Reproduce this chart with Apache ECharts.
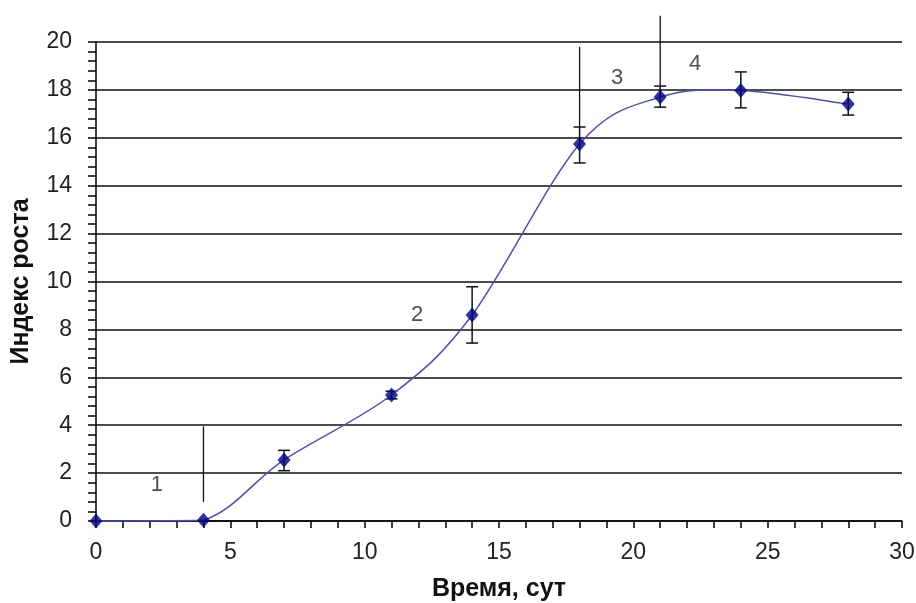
<!DOCTYPE html>
<html>
<head>
<meta charset="utf-8">
<script src="https://cdn.jsdelivr.net/npm/echarts@6/dist/echarts.min.js"></script>
<style>html,body{margin:0;padding:0;background:#fff;}#c{width:916px;height:603px;}</style>
</head>
<body>
<div id="c"></div>
<script>
// Data
const days = [0, 4, 7, 11, 14, 18, 21, 24, 28];
const growth = [0, 0.03, 2.55, 5.26, 8.6, 15.74, 17.7, 17.97, 17.41];
const errLow = [null, null, 2.1, 5.1, 7.43, 14.95, 17.28, 17.25, 16.95];
const errHigh = [null, null, 2.95, 5.42, 9.78, 16.45, 18.16, 18.75, 17.9];
const stageLineX = [4, 18, 21];
const stageLineFrom = [0.8, 16.45, 18.16];
const stageLineTo = [3.95, 19.8, 21.1];
const stageNames = ['1', '2', '3', '4'];
const stageNameX = [2.27, 11.95, 19.4, 22.3];
const stageNameY = [1.5, 8.6, 18.5, 19.1];
const xTitle = 'Время, сут';
const yTitle = 'Индекс роста';

const FONT = '"Liberation Sans", Arial, sans-serif';

const lineData = days.map((d, i) => [d, growth[i]]);
const segData = days.slice(0, -1).map((d, i) => [d, growth[i], days[i + 1], growth[i + 1]]);
const errData = [];
days.forEach((d, i) => { if (errLow[i] != null) errData.push([d, errLow[i], errHigh[i]]); });
const vData = stageLineX.map((x, i) => [x, stageLineFrom[i], stageLineTo[i]]);
const labelData = stageNames.map((n, i) => ({ name: n, value: [stageNameX[i], stageNameY[i]] }));

const chart = echarts.init(document.getElementById('c'));
chart.setOption({
  animation: false,
  backgroundColor: '#fff',
  grid: { left: 96, right: 14, top: 42, bottom: 82, outerBoundsMode: 'none', containLabel: false },
  xAxis: {
    type: 'value', min: 0, max: 30, interval: 5,
    name: xTitle, nameLocation: 'middle', nameGap: 56,
    nameTextStyle: { fontFamily: FONT, fontSize: 25, fontWeight: 'bold', color: '#111' },
    axisLine: { show: true, onZero: false, lineStyle: { color: '#000', width: 1.5 } },
    axisTick: { show: true, length: 7, lineStyle: { color: '#000', width: 1.5 } },
    minorTick: { show: true, splitNumber: 5, length: 7, lineStyle: { color: '#000', width: 1.5 } },
    axisLabel: { fontFamily: FONT, fontSize: 23, color: '#222', margin: 20 },
    splitLine: { show: false }
  },
  yAxis: {
    type: 'value', min: 0, max: 20, interval: 2,
    name: yTitle, nameLocation: 'middle', nameGap: 62, nameRotate: 90,
    nameTextStyle: { fontFamily: FONT, fontSize: 25, fontWeight: 'bold', color: '#111' },
    axisLine: { show: true, lineStyle: { color: '#000', width: 1.5 } },
    axisTick: { show: true, length: 8, lineStyle: { color: '#000', width: 1.5 } },
    minorTick: { show: true, splitNumber: 5, length: 8, lineStyle: { color: '#000', width: 1.5 } },
    axisLabel: { fontFamily: FONT, fontSize: 23, color: '#222', margin: 24 },
    splitLine: { show: true, lineStyle: { color: '#111', width: 1.5 } }
  },
  series: [
    {
      type: 'custom',
      name: 'stages',
      clip: false,
      data: vData,
      z: 3,
      renderItem: function (params, api) {
        const a = api.coord([api.value(0), api.value(1)]);
        const b = api.coord([api.value(0), api.value(2)]);
        return { type: 'line', shape: { x1: a[0], y1: a[1], x2: b[0], y2: b[1] }, style: { stroke: '#111', lineWidth: 1.3 } };
      }
    },
    {
      type: 'custom',
      name: 'err',
      data: errData,
      z: 4,
      renderItem: function (params, api) {
        const lo = api.coord([api.value(0), api.value(1)]);
        const hi = api.coord([api.value(0), api.value(2)]);
        const w = 6;
        const st = { stroke: '#111', lineWidth: 1.5 };
        return {
          type: 'group',
          children: [
            { type: 'line', shape: { x1: lo[0], y1: lo[1], x2: hi[0], y2: hi[1] }, style: st },
            { type: 'line', shape: { x1: lo[0] - w, y1: lo[1], x2: lo[0] + w, y2: lo[1] }, style: st },
            { type: 'line', shape: { x1: hi[0] - w, y1: hi[1], x2: hi[0] + w, y2: hi[1] }, style: st }
          ]
        };
      }
    },
    {
      // smoothed curve (Catmull-Rom style Bezier through the data points)
      type: 'custom',
      name: 'curve',
      data: segData,
      clip: false,
      z: 5,
      renderItem: function (params, api) {
        const i = params.dataIndex;
        const n = lineData.length;
        const P = (k) => api.coord(lineData[Math.max(0, Math.min(n - 1, k))]);
        const p0 = P(i - 1), p1 = P(i), p2 = P(i + 1), p3 = P(i + 2);
        const t = 1 / 6;
        let cpy1 = p1[1] + (p2[1] - p0[1]) * t;
        let cpy2 = p2[1] - (p3[1] - p1[1]) * t;
        if (Math.abs(p2[1] - p1[1]) < 3) {
          const lo = Math.min(p1[1], p2[1]), hi = Math.max(p1[1], p2[1]);
          cpy1 = Math.max(lo, Math.min(hi, cpy1));
          cpy2 = Math.max(lo, Math.min(hi, cpy2));
        }
        return {
          type: 'bezierCurve',
          shape: {
            x1: p1[0], y1: p1[1], x2: p2[0], y2: p2[1],
            cpx1: p1[0] + (p2[0] - p0[0]) * t, cpy1: cpy1,
            cpx2: p2[0] - (p3[0] - p1[0]) * t, cpy2: cpy2
          },
          style: { stroke: '#5050a8', lineWidth: 1.5, fill: null }
        };
      }
    },
    {
      type: 'scatter',
      data: lineData,
      symbol: 'diamond',
      symbolSize: [13, 15],
      z: 6,
      clip: false,
      itemStyle: { color: '#000080' }
    },
    {
      type: 'scatter',
      data: labelData,
      symbolSize: 1,
      itemStyle: { color: 'rgba(0,0,0,0)' },
      z: 7,
      label: {
        show: true, position: 'inside', formatter: '{b}',
        fontFamily: FONT, fontSize: 22, color: '#222'
      }
    }
  ]
});
</script>
</body>
</html>
